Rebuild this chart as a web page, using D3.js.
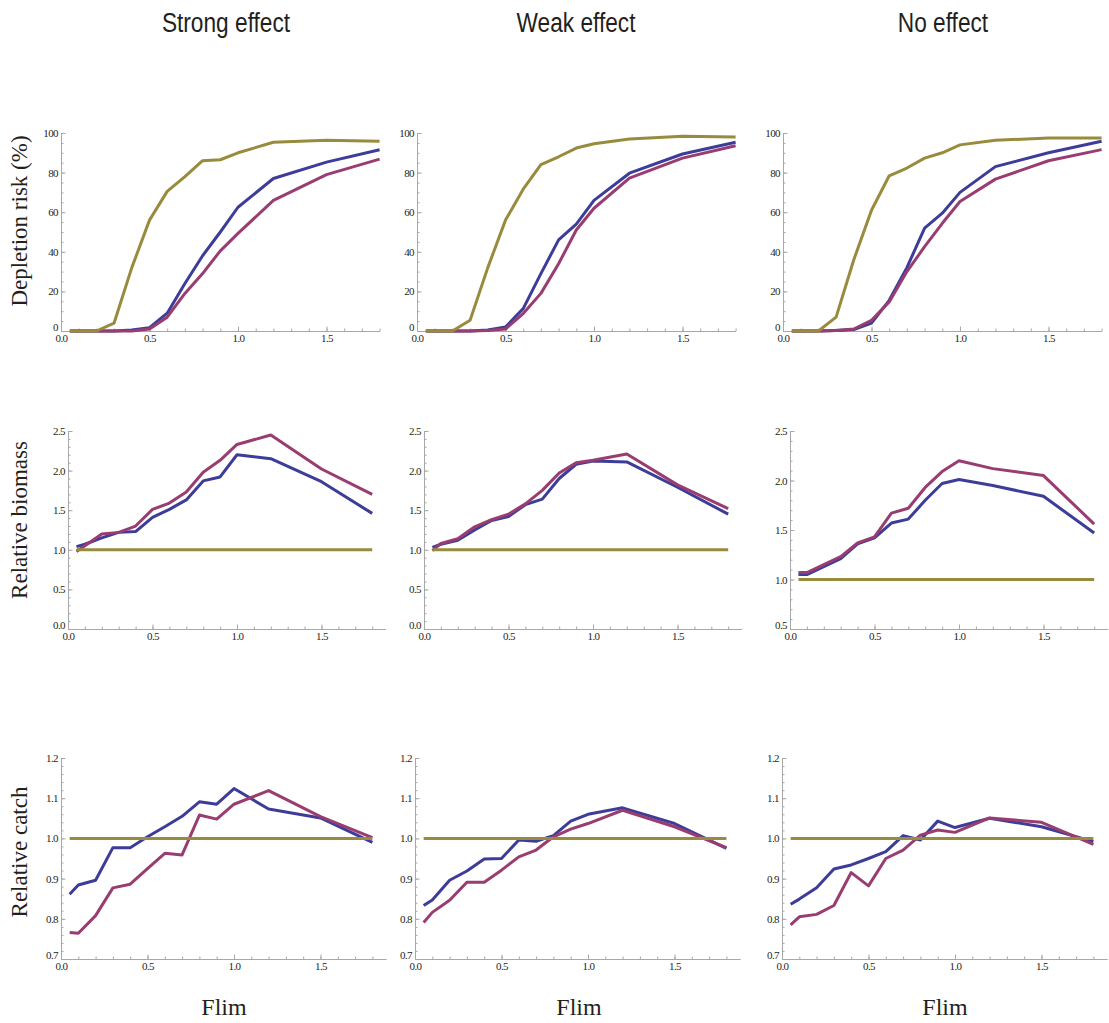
<!DOCTYPE html>
<html>
<head>
<meta charset="utf-8">
<script src="https://cdn.jsdelivr.net/npm/d3@7"></script>
<style>
  body { margin: 0; background: #fff; }
  svg { display: block; }
</style>
</head>
<body>
<svg id="chart" width="1109" height="1023"></svg>
<script>
// fishing limit values on the x axis
const fLim = [0.05, 0.1, 0.2, 0.3, 0.4, 0.5, 0.6, 0.7, 0.8, 0.9, 1.0, 1.2, 1.5, 1.8];
const effects = ["Strong effect", "Weak effect", "No effect"];
const measures = ["Depletion risk (%)", "Relative biomass", "Relative catch"];
const xTickValues = [0, 0.5, 1.0, 1.5];

// depletion risk (%)
const depStrongBlue = [0, 0, 0, 0, 0.5, 1.7, 9, 24, 38, 50, 62.5, 77, 85.3, 91.5];
const depStrongRed  = [0, 0, 0, 0, 0, 1, 7, 19, 29, 40.5, 49.3, 66, 79, 86.8];
const depStrongGold = [0, 0, 0, 4, 32, 56, 70.5, 78, 86, 86.5, 90, 95.3, 96.3, 95.8];
const depWeakBlue = [0, 0, 0, 0, 0.5, 2, 11.3, 29, 46, 54, 66, 79.7, 89.4, 95.3];
const depWeakRed  = [0, 0, 0, 0, 0.3, 1, 8.8, 19, 34, 51, 62, 77.2, 87.3, 93.6];
const depWeakGold = [0, 0, 0, 5.4, 32, 56, 71.6, 84, 88, 92.4, 94.6, 97, 98.3, 98];
const depNoneBlue = [0, 0, 0, 0.3, 0.7, 4, 15.5, 32, 52, 59.5, 70, 83, 90, 95.8];
const depNoneRed  = [0, 0, 0, 0.3, 1, 5.4, 14.7, 30, 42.6, 54.4, 65.4, 76.7, 86, 91.6];
const depNoneGold = [0, 0, 0, 7, 36, 61, 78.4, 82.3, 87.3, 90, 94, 96.3, 97.5, 97.5];

// relative biomass
const bioStrongBlue = [1.04, 1.07, 1.15, 1.22, 1.23, 1.41, 1.51, 1.63, 1.87, 1.92, 2.2, 2.15, 1.86, 1.46];
const bioStrongRed  = [0.98, 1.05, 1.2, 1.22, 1.3, 1.51, 1.59, 1.73, 1.98, 2.13, 2.33, 2.45, 2.02, 1.7];
const bioStrongGold = [1, 1, 1, 1, 1, 1, 1, 1, 1, 1, 1, 1, 1, 1];
const bioWeakBlue = [1.03, 1.07, 1.12, 1.25, 1.37, 1.42, 1.57, 1.64, 1.9, 2.08, 2.12, 2.11, 1.79, 1.45];
const bioWeakRed  = [0.99, 1.08, 1.14, 1.29, 1.38, 1.45, 1.58, 1.75, 1.97, 2.1, 2.13, 2.21, 1.82, 1.52];
const bioWeakGold = [1, 1, 1, 1, 1, 1, 1, 1, 1, 1, 1, 1, 1, 1];
const bioNoneBlue = [1.05, 1.05, 1.13, 1.21, 1.36, 1.42, 1.57, 1.61, 1.8, 1.97, 2.01, 1.95, 1.84, 1.47];
const bioNoneRed  = [1.07, 1.07, 1.15, 1.23, 1.37, 1.43, 1.67, 1.72, 1.93, 2.09, 2.2, 2.12, 2.05, 1.56];
const bioNoneGold = [1, 1, 1, 1, 1, 1, 1, 1, 1, 1, 1, 1, 1, 1];

// relative catch
const catchStrongBlue = [0.861, 0.884, 0.896, 0.977, 0.977, 1.004, 1.029, 1.055, 1.091, 1.085, 1.124, 1.073, 1.051, 0.99];
const catchStrongRed  = [0.766, 0.764, 0.808, 0.877, 0.886, 0.925, 0.963, 0.959, 1.058, 1.048, 1.085, 1.119, 1.054, 1.002];
const catchStrongGold = [1, 1, 1, 1, 1, 1, 1, 1, 1, 1, 1, 1, 1, 1];
const catchWeakBlue = [0.833, 0.847, 0.896, 0.919, 0.949, 0.95, 0.996, 0.993, 1.007, 1.043, 1.06, 1.076, 1.037, 0.975];
const catchWeakRed  = [0.791, 0.816, 0.846, 0.891, 0.891, 0.921, 0.954, 0.971, 1.004, 1.023, 1.037, 1.07, 1.029, 0.977];
const catchWeakGold = [1, 1, 1, 1, 1, 1, 1, 1, 1, 1, 1, 1, 1, 1];
const catchNoneBlue = [0.836, 0.849, 0.877, 0.924, 0.934, 0.95, 0.967, 1.007, 0.996, 1.043, 1.027, 1.05, 1.029, 0.992];
const catchNoneRed  = [0.785, 0.805, 0.811, 0.833, 0.915, 0.882, 0.95, 0.971, 1.008, 1.021, 1.015, 1.051, 1.04, 0.985];
const catchNoneGold = [1, 1, 1, 1, 1, 1, 1, 1, 1, 1, 1, 1, 1, 1];

const panelSeries = [
  [[depStrongBlue, depStrongRed, depStrongGold], [depWeakBlue, depWeakRed, depWeakGold], [depNoneBlue, depNoneRed, depNoneGold]],
  [[bioStrongBlue, bioStrongRed, bioStrongGold], [bioWeakBlue, bioWeakRed, bioWeakGold], [bioNoneBlue, bioNoneRed, bioNoneGold]],
  [[catchStrongBlue, catchStrongRed, catchStrongGold], [catchWeakBlue, catchWeakRed, catchWeakGold], [catchNoneBlue, catchNoneRed, catchNoneGold]],
];

const colors = ["#3d3d99", "#993d71", "#998b3d"];

// layout of each row of panels
const rows = [
  { top: 133, bottom: 331, x0: [61, 417, 783], unit: 177, xMax: 1.8,
    yDomains: [[0, 100], [0, 100], [0, 100]], major: 20, minor: 5, fmt: d3.format("d"), labelY: 221 },
  { top: 431, bottom: 629, x0: [68, 424, 790], unit: 169, xMax: 1.88,
    yDomains: [[0, 2.5], [0, 2.5], [0.5, 2.5]], major: 0.5, minor: 0.1, fmt: d3.format(".1f"), labelY: 520 },
  { top: 758, bottom: 959, x0: [61, 415, 782], unit: 173, xMax: 1.88,
    yDomains: [[0.7, 1.2], [0.7, 1.2], [0.7, 1.2]], major: 0.1, minor: 0.02, fmt: d3.format(".1f"), labelY: 852 },
];

const svg = d3.select("#chart");

// column titles (condensed look: squeeze the glyphs a bit)
const titleX = [226, 576, 943];
svg.selectAll("text.title")
  .data(effects)
  .join("text")
  .attr("class", "title")
  .attr("x", (d, i) => titleX[i])
  .attr("y", 32)
  .attr("text-anchor", "middle")
  .attr("lengthAdjust", "spacingAndGlyphs")
  .style("font-family", "'Liberation Sans', sans-serif")
  .style("font-size", "27px")
  .style("fill", "#231f20")
  .text((d) => d)
  .each(function () {
    const w = this.getComputedTextLength();
    d3.select(this).attr("textLength", w * 0.84);
  });

// Flim labels
const flimX = [224, 579, 945];
svg.selectAll("text.flim")
  .data(flimX)
  .join("text")
  .attr("class", "flim")
  .attr("x", (d) => d)
  .attr("y", 1015)
  .attr("text-anchor", "middle")
  .style("font-family", "'Liberation Serif', serif")
  .style("font-size", "24px")
  .style("fill", "#231f20")
  .text("Flim");

function range(lo, hi, step) {
  const n = Math.round((hi - lo) / step);
  return d3.range(n + 1).map((i) => +(lo + i * step).toFixed(4));
}

rows.forEach((row, r) => {
  // row label
  svg.append("text")
    .attr("transform", `translate(22,${row.labelY}) rotate(-90)`)
    .attr("text-anchor", "middle")
    .attr("dominant-baseline", "middle")
    .style("font-family", "'Liberation Serif', serif")
    .style("font-size", "23px")
    .style("fill", "#231f20")
    .text(measures[r]);

  row.x0.forEach((x0, c) => {
    const x = d3.scaleLinear().domain([0, row.xMax]).range([x0, x0 + row.unit * row.xMax]);
    const yd = row.yDomains[c];
    const y = d3.scaleLinear().domain(yd).range([row.bottom, row.top]);
    const g = svg.append("g");

    // minor ticks
    const xMinor = range(0, row.xMax, 0.1).filter((v) => v <= row.xMax);
    g.append("g")
      .attr("transform", `translate(0,${row.bottom})`)
      .call(d3.axisBottom(x).tickValues(xMinor).tickSize(-2.5).tickSizeOuter(0).tickFormat(""))
      .call((a) => a.select(".domain").remove());
    g.append("g")
      .attr("transform", `translate(${x0},0)`)
      .call(d3.axisLeft(y).tickValues(range(yd[0], yd[1], row.minor)).tickSize(-2.5).tickSizeOuter(0).tickFormat(""))
      .call((a) => a.select(".domain").remove());

    // major ticks with labels
    g.append("g")
      .attr("transform", `translate(0,${row.bottom})`)
      .call(d3.axisBottom(x).tickValues(xTickValues).tickSize(-4.5).tickSizeOuter(0).tickPadding(3).tickFormat(d3.format(".1f")));
    const yAx = g.append("g")
      .attr("transform", `translate(${x0},0)`)
      .call(d3.axisLeft(y).tickValues(range(yd[0], yd[1], row.major)).tickSize(-4.5).tickSizeOuter(0).tickPadding(3).tickFormat(row.fmt));
    // lift the lowest y label a little so it clears the 0.0 of the x axis
    yAx.select(".tick:first-of-type text").attr("dy", "-0.05em");

    g.selectAll(".domain").attr("stroke", "#a8a8a8");
    g.selectAll(".tick line").attr("stroke", "#a8a8a8");
    g.selectAll(".tick text")
      .style("font-family", "'Liberation Serif', serif")
      .style("font-size", "11px")
      .style("letter-spacing", "-0.6px")
      .attr("fill", "#231f20");

    // series lines
    const line = d3.line()
      .x((d, i) => x(fLim[i]))
      .y((d) => y(d));
    g.selectAll("path.series")
      .data(panelSeries[r][c])
      .join("path")
      .attr("class", "series")
      .attr("d", line)
      .attr("fill", "none")
      .attr("stroke", (d, i) => colors[i])
      .attr("stroke-width", 3)
      .attr("stroke-linejoin", "round");
  });
});
</script>
</body>
</html>
